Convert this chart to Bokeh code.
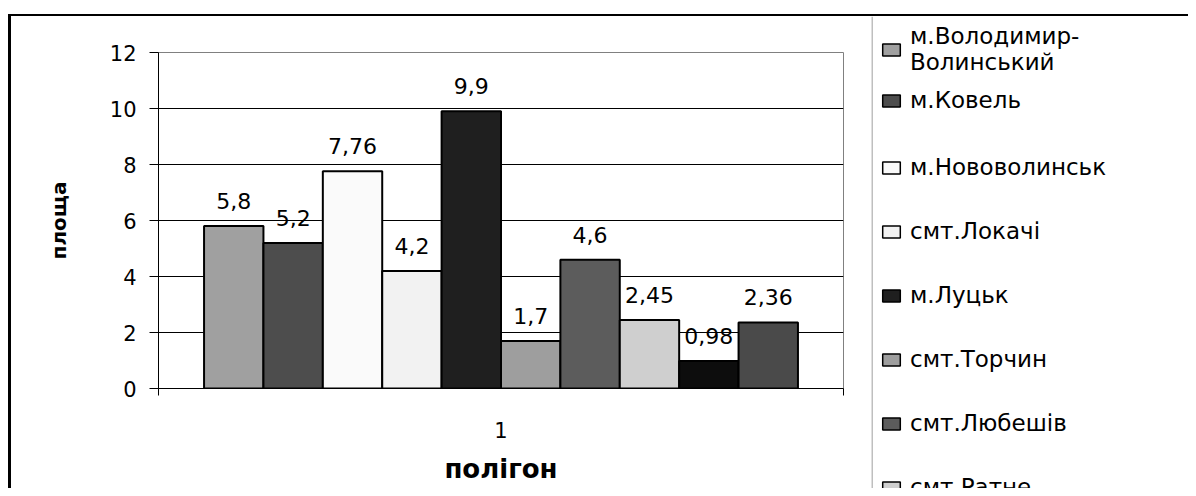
from bokeh.plotting import figure
from bokeh.models import (ColumnDataSource, Range1d, FixedTicker, LegendItem, Legend,
                          LabelSet, Span, Div)
from bokeh.layouts import row, column
from bokeh.core.properties import value
from bokeh.embed import file_html
from bokeh.resources import INLINE

# ---- data ----
category = "1"
series_names = ["м.Володимир-\nВолинський", "м.Ковель", "м.Нововолинськ", "смт.Локачі",
                "м.Луцьк", "смт.Торчин", "смт.Любешів", "смт.Ратне"]
values = [5.8, 5.2, 7.76, 4.2, 9.9, 1.7, 4.6, 2.45, 0.98, 2.36]
colors = ["#a0a0a0", "#4d4d4d", "#fafafa", "#f2f2f2", "#1f1f1f",
          "#9e9e9e", "#5c5c5c", "#cfcfcf", "#0d0d0d", "#4a4a4a"]
y_ticks = [0, 2, 4, 6, 8, 10, 12]
x_title = "полігон"
y_title = "площа"

FONT = "DejaVu Sans"

n = len(values)
group_frac = 0.867
bw = group_frac / n
xs = [0.5 + (i - (n - 1) / 2) * bw for i in range(n)]
labels = [("%g" % v).replace(".", ",") for v in values]

src = ColumnDataSource(dict(x=xs, top=values, color=colors, label=labels))

H = 472
p = figure(width=860, height=H, x_range=Range1d(0, 1), y_range=Range1d(0, 12),
           output_backend="svg", toolbar_location=None,
           min_border_left=147, min_border_right=28, min_border_top=36, min_border_bottom=100)
p.background_fill_color = "white"
p.border_fill_color = "white"
p.outline_line_color = "#808080"
p.outline_line_width = 1

bars = p.vbar(x="x", top="top", bottom=0, width=bw, fill_color="color",
              line_color="black", line_width=2, source=src)

p.add_layout(LabelSet(x="x", y="top", text="label", source=src, y_offset=25,
                      text_align="center", text_baseline="middle",
                      text_font=value(FONT), text_font_size=value("22px"),
                      text_color=value("black")))

# y axis
p.yaxis.ticker = FixedTicker(ticks=y_ticks)
p.yaxis.axis_label = y_title
p.yaxis.axis_label_text_font = FONT
p.yaxis.axis_label_text_font_style = "bold"
p.yaxis.axis_label_text_font_size = "20px"
p.yaxis.axis_label_text_color = "black"
p.yaxis.axis_label_standoff = 36
p.yaxis.major_label_text_font = FONT
p.yaxis.major_label_text_font_size = "21px"
p.yaxis.major_label_text_color = "black"
p.yaxis.major_label_standoff = 13
p.yaxis.major_tick_out = 9
p.yaxis.major_tick_in = 0
p.yaxis.minor_tick_out = 0
p.yaxis.minor_tick_in = 0
p.yaxis.axis_line_color = "black"
p.yaxis.major_tick_line_color = "black"

# x axis
p.xaxis.ticker = FixedTicker(ticks=[0.5], minor_ticks=[0, 1])
p.xaxis.major_label_overrides = {0.5: category}
p.xaxis.axis_label = x_title
p.xaxis.axis_label_text_font = FONT
p.xaxis.axis_label_text_font_style = "bold"
p.xaxis.axis_label_text_font_size = "26px"
p.xaxis.axis_label_text_color = "black"
p.xaxis.axis_label_standoff = 13
p.xaxis.major_label_text_font = FONT
p.xaxis.major_label_text_font_size = "21px"
p.xaxis.major_label_text_color = "black"
p.xaxis.major_label_standoff = 26
p.xaxis.major_tick_out = 0
p.xaxis.major_tick_in = 0
p.xaxis.minor_tick_out = 7
p.xaxis.minor_tick_in = 0
p.xaxis.minor_tick_line_color = "black"
p.xaxis.axis_line_color = "black"

p.xgrid.visible = False
p.ygrid.ticker = FixedTicker(ticks=y_ticks[1:-1])
p.ygrid.grid_line_color = "black"

# ---- legend panel (separate canvas to the right) ----
LW = 1188 - 871
q = figure(width=LW, height=H, x_range=Range1d(0, LW), y_range=Range1d(0, H),
           output_backend="svg", toolbar_location=None,
           x_axis_location=None, y_axis_location=None, min_border=0)
q.grid.visible = False
q.outline_line_color = None
q.background_fill_color = "white"
q.border_fill_color = "white"
# left edge of the legend box
q.add_layout(Span(location=0.5, dimension="height", line_color="#808080", line_width=1))

lbars = q.vbar(x="x", top="top", bottom=0, width=bw, fill_color="color",
               line_color="black", line_width=1.5, source=src, visible=False)

def make_legend(idx, loc, spacing):
    return Legend(items=[LegendItem(label=series_names[i], renderers=[lbars], index=i) for i in idx],
                  location=loc, orientation="vertical", spacing=spacing,
                  padding=0, margin=0, border_line_color=None, background_fill_alpha=0,
                  glyph_width=22, glyph_height=15, label_standoff=8, label_height=26,
                  label_text_font=FONT, label_text_font_size="23px", label_text_color="black")

q.add_layout(make_legend([0, 1], (9, 375), 12))
q.add_layout(make_legend([2, 3, 4, 5, 6, 7], (9, -12), 38))

# chart border lines
top_line = Div(text="", width=1188 - 8, height=2, margin=(14, 0, 0, 8),
               styles={"background-color": "black"})
left_line = Div(text="", width=3, height=H, margin=(0, 0, 0, 8),
                styles={"background-color": "black"})

layout = column(top_line,
                row(column(row(left_line, p, spacing=0), spacing=0), q, spacing=0),
                spacing=0)

open("out.html", "w").write(file_html(layout, INLINE))
